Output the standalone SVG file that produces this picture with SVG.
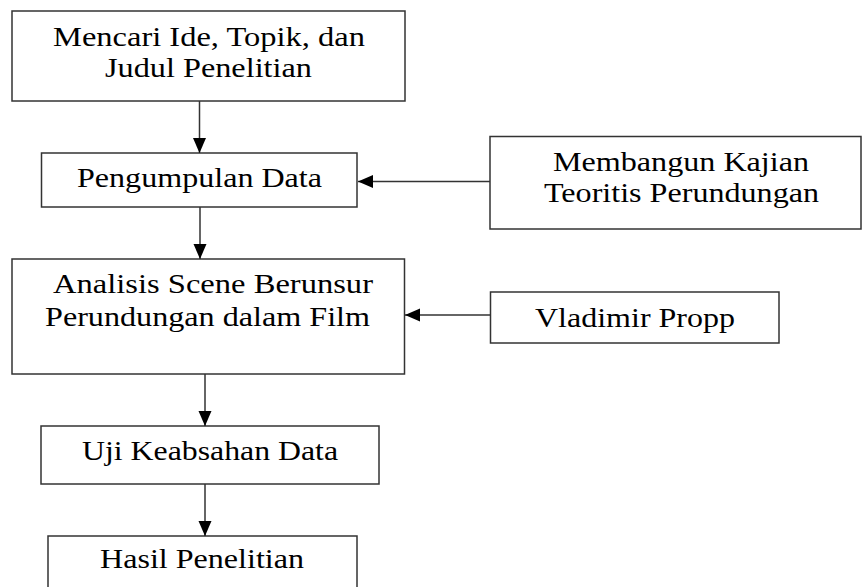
<svg xmlns="http://www.w3.org/2000/svg" width="862" height="587" viewBox="0 0 862 587">
<style>
.box{fill:#fff;stroke:#333;stroke-width:1.5}
.lbl{font-size:28px;fill:#000;text-anchor:middle}
.con{stroke:#333;stroke-width:1.5;fill:none;marker-end:url(#ah)}
</style>
<defs>
<marker id="ah" markerUnits="userSpaceOnUse" markerWidth="16" markerHeight="14" refX="15" refY="6.5" orient="auto">
<path d="M0,0 L15,6.5 L0,13 Z" fill="#000"/>
</marker>
</defs>
<rect width="862" height="587" fill="#fff"/>
<g font-family="Liberation Serif, Times New Roman, DejaVu Serif, serif">
<g id="n1"><rect class="box" x="12" y="11" width="393" height="90"/>
<text class="lbl" x="209" y="46" textLength="312" lengthAdjust="spacingAndGlyphs">Mencari Ide, Topik, dan</text>
<text class="lbl" x="208.5" y="77" textLength="207" lengthAdjust="spacingAndGlyphs">Judul Penelitian</text></g>
<g id="n2"><rect class="box" x="41.5" y="153" width="315.5" height="54"/>
<text class="lbl" x="199.5" y="187" textLength="245" lengthAdjust="spacingAndGlyphs">Pengumpulan Data</text></g>
<g id="n3"><rect class="box" x="12" y="259" width="392.5" height="115"/>
<text class="lbl" x="213" y="293" textLength="320" lengthAdjust="spacingAndGlyphs">Analisis Scene Berunsur</text>
<text class="lbl" x="207.5" y="326" textLength="325" lengthAdjust="spacingAndGlyphs">Perundungan dalam Film</text></g>
<g id="n4"><rect class="box" x="41" y="426" width="338" height="58"/>
<text class="lbl" x="210" y="460" textLength="256" lengthAdjust="spacingAndGlyphs">Uji Keabsahan Data</text></g>
<g id="n5"><rect class="box" x="48" y="536" width="309" height="60"/>
<text class="lbl" x="202" y="568" textLength="204" lengthAdjust="spacingAndGlyphs">Hasil Penelitian</text></g>
<g id="n6"><rect class="box" x="490" y="136.5" width="371" height="92.5"/>
<text class="lbl" x="681" y="171" textLength="256" lengthAdjust="spacingAndGlyphs">Membangun Kajian</text>
<text class="lbl" x="681.5" y="202" textLength="275" lengthAdjust="spacingAndGlyphs">Teoritis Perundungan</text></g>
<g id="n7"><rect class="box" x="490.5" y="292" width="288.5" height="51"/>
<text class="lbl" x="635" y="327" textLength="200" lengthAdjust="spacingAndGlyphs">Vladimir Propp</text></g>
</g>
<g id="connectors">
<line class="con" x1="199.5" y1="101" x2="199.5" y2="153"/>
<line class="con" x1="200" y1="207" x2="200" y2="259"/>
<line class="con" x1="205" y1="374" x2="205" y2="426"/>
<line class="con" x1="205" y1="484" x2="205" y2="536"/>
<line class="con" x1="490" y1="181.5" x2="358" y2="181.5"/>
<line class="con" x1="490.5" y1="315" x2="405" y2="315"/>
</g>
</svg>
